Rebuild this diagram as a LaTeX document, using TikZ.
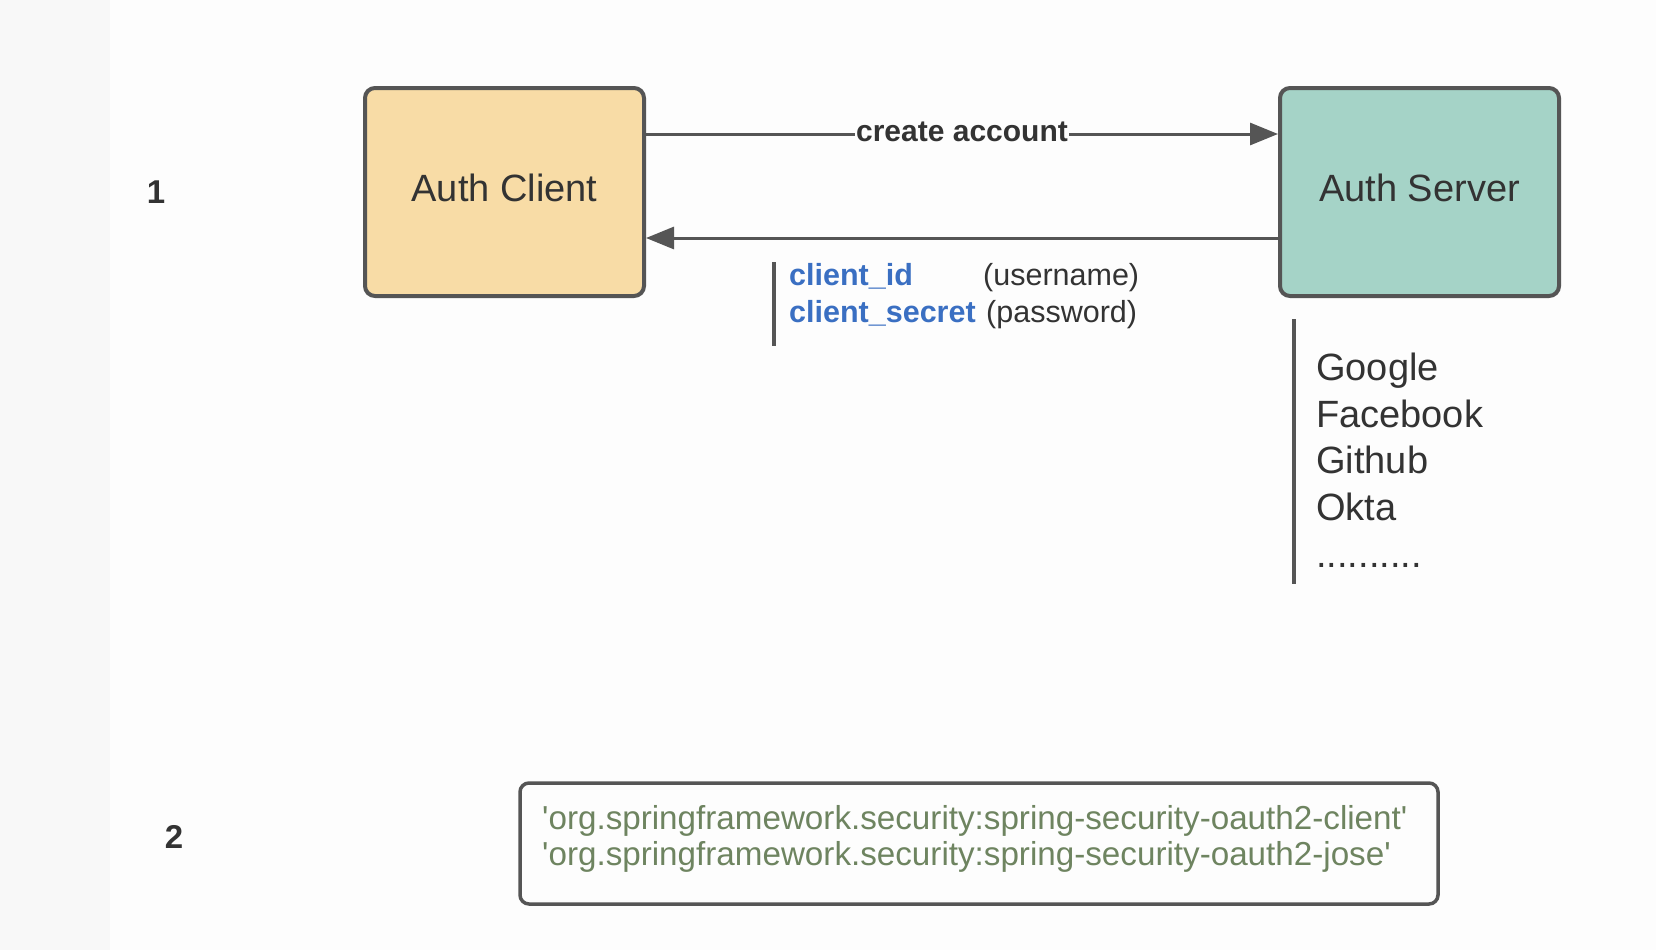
\documentclass[tikz,border=0pt]{standalone}
\usepackage{fontspec}
\setmainfont{Liberation Sans}
\usetikzlibrary{arrows.meta}
\definecolor{bgc}{HTML}{FDFDFD}
\definecolor{stripc}{HTML}{F8F8F8}
\definecolor{peach}{HTML}{F8DCA6}
\definecolor{teal}{HTML}{A5D3C7}
\definecolor{edgec}{HTML}{555555}
\definecolor{txtc}{HTML}{333333}
\definecolor{bluec}{HTML}{3A6FC2}
\definecolor{olivec}{HTML}{6E8460}
\tikzset{
  actor/.style={draw=edgec, line width=4pt, rounded corners=10pt, minimum width=279pt, minimum height=208pt, font=\fontsize{38}{46}\selectfont, text=txtc, text depth=8pt},
  flow/.style={draw=edgec, line width=3pt, -{Triangle[length=28pt,width=22pt]}},
  bar/.style={draw=edgec, line width=4pt},
  lbl/.style={fill=bgc, inner sep=1pt, yshift=2pt, font=\bfseries\fontsize{30}{36}\selectfont, text=txtc},
  num/.style={font=\bfseries\fontsize{33}{40}\selectfont, text=txtc},
  credkey/.style={anchor=base west, inner sep=0pt, font=\bfseries\fontsize{30.5}{36}\selectfont, text=bluec},
  credval/.style={anchor=base west, inner sep=0pt, font=\fontsize{30.5}{36}\selectfont, text=txtc},
  provider/.style={anchor=base west, inner sep=0pt, font=\fontsize{38}{46}\selectfont, text=txtc},
  depbox/.style={draw=edgec, line width=3.5pt, rounded corners=9pt, minimum width=918pt, minimum height=121pt},
  dep/.style={anchor=base west, inner sep=0pt, font=\fontsize{33.2}{36}\selectfont, text=olivec}
}
\begin{document}
\begin{tikzpicture}[x=1pt,y=-1pt]
\useasboundingbox (0,0) rectangle (1656,950);
\fill[bgc] (0,0) rectangle (1656,950);
\fill[stripc] (0,0) rectangle (110,950);

\node[num] (n1) at (156,192) {1};
\node[num] (n2) at (174,837) {2};

\node[actor, fill=peach] (client) at (504.5,192) {Auth Client};
\node[actor, fill=teal] (server) at (1419.5,192) {Auth Server};

\coordinate (ytop) at (0,134);
\coordinate (ybot) at (0,238);
\draw[flow] (client.east |- ytop) -- node[lbl] {create account} (server.west |- ytop);
\draw[flow] (server.west |- ybot) -- (client.east |- ybot);

\coordinate (b1s) at (774,262);
\coordinate (b1e) at (774,346);
\draw[bar] (b1s) -- (b1e);
\node[credkey] (cid) at (789,285) {client\_id};
\node[credval] (cidv) at (983,285) {(username)};
\node[credkey] (csec) at (789,322) {client\_secret};
\node[credval] (csecv) at (986,322) {(password)};

\coordinate (b2s) at (1294,319);
\coordinate (b2e) at (1294,584);
\draw[bar] (b2s) -- (b2e);
\node[provider] (p1) at (1316,380) {Google};
\node[provider] (p2) at (1316,427) {Facebook};
\node[provider] (p3) at (1316,473) {Github};
\node[provider] (p4) at (1316,520) {Okta};
\node[provider] (p5) at (1316,567) {..........};

\node[depbox, fill=bgc] (deps) at (979,843.5) {};
\node[dep] (d1) at (542,829) {\textquotesingle org.springframework.security:spring-security-oauth2-client\textquotesingle};
\node[dep] (d2) at (542,865) {\textquotesingle org.springframework.security:spring-security-oauth2-jose\textquotesingle};
\end{tikzpicture}
\end{document}
